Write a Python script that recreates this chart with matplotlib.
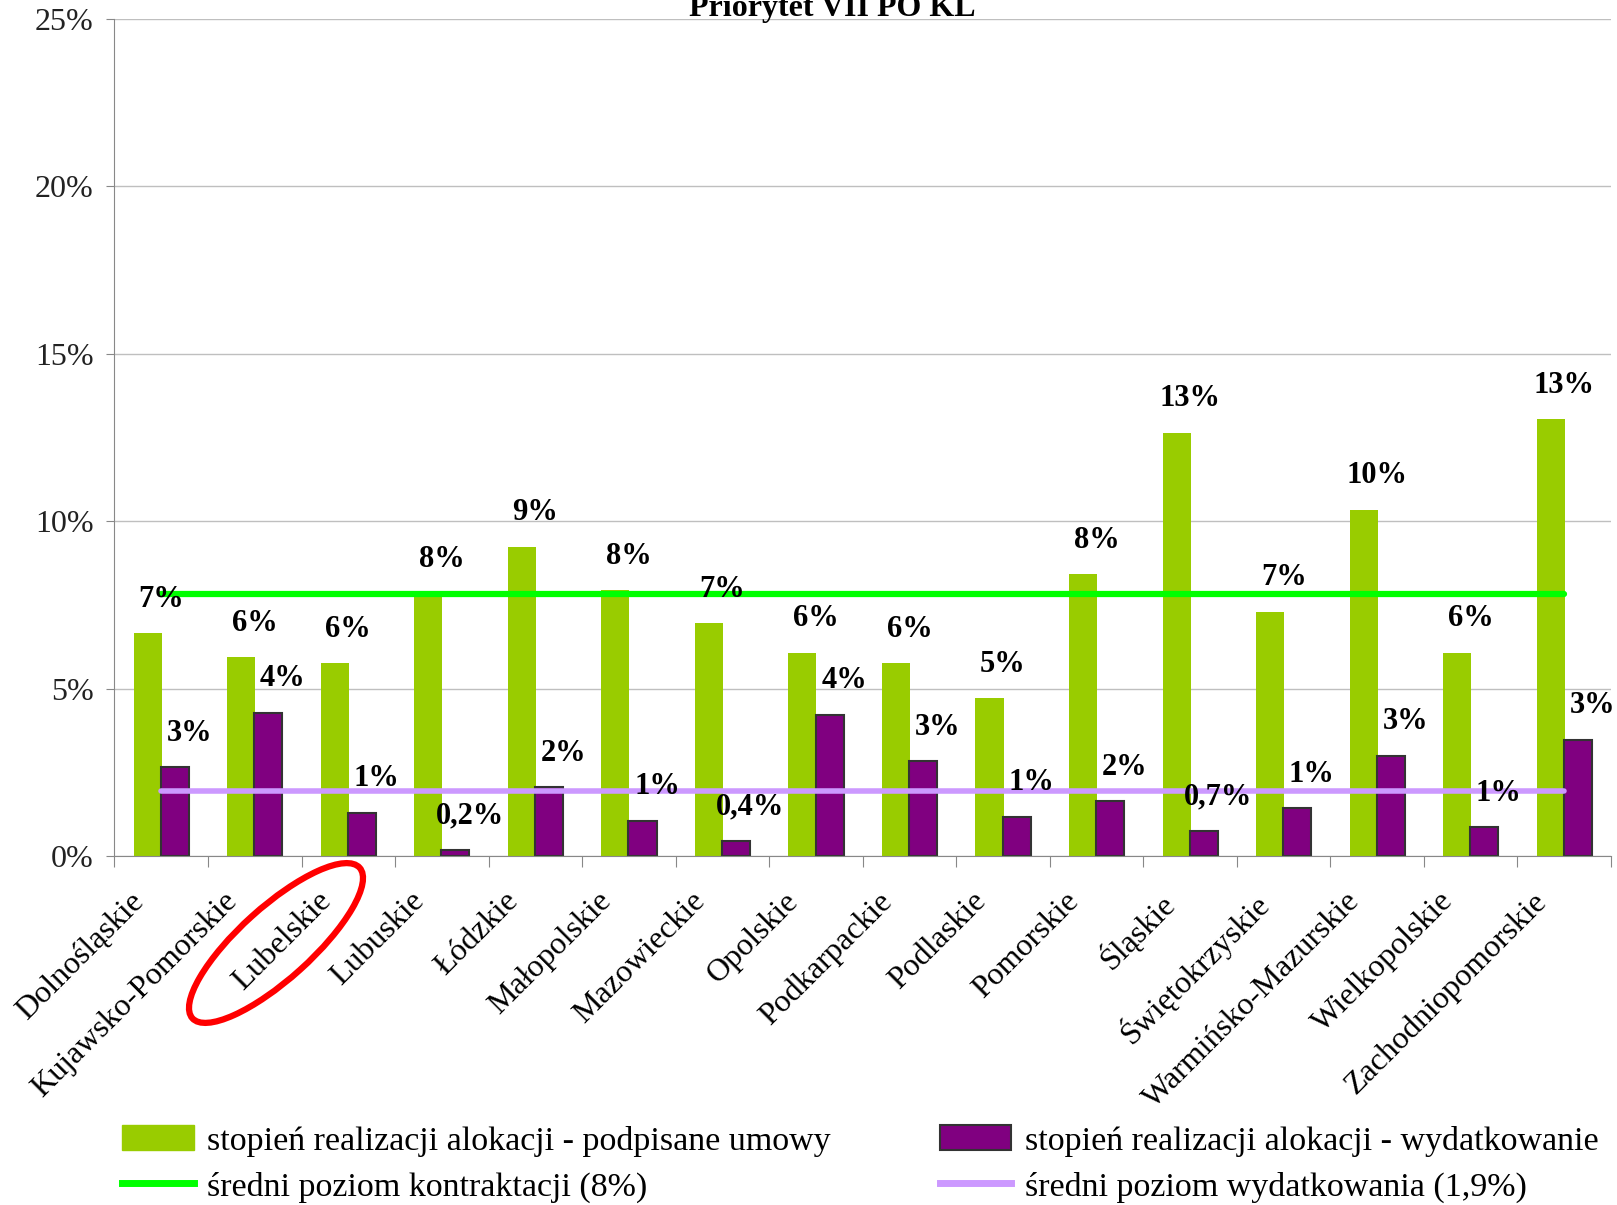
import numpy as np
import matplotlib
matplotlib.use("Agg")
import matplotlib.pyplot as plt
from matplotlib.patches import Ellipse, Patch
from matplotlib.lines import Line2D

# data (percent)
regions = ["Dolnośląskie", "Kujawsko-Pomorskie", "Lubelskie", "Lubuskie", "Łódzkie",
           "Małopolskie", "Mazowieckie", "Opolskie", "Podkarpackie", "Podlaskie",
           "Pomorskie", "Śląskie", "Świętokrzyskie", "Warmińsko-Mazurskie",
           "Wielkopolskie", "Zachodniopomorskie"]
contracts = [6.65, 5.94, 5.76, 7.85, 9.24, 7.94, 6.96, 6.07, 5.76, 4.71,
             8.41, 12.65, 7.30, 10.34, 6.07, 13.05]
spending = [2.65, 4.28, 1.29, 0.18, 2.06, 1.05, 0.46, 4.22, 2.83, 1.17,
            1.63, 0.74, 1.42, 2.99, 0.86, 3.48]
contracts_labels = ["7%", "6%", "6%", "8%", "9%", "8%", "7%", "6%", "6%", "5%",
                    "8%", "13%", "7%", "10%", "6%", "13%"]
spending_labels = ["3%", "4%", "1%", "0,2%", "2%", "1%", "0,4%", "4%", "3%", "1%",
                   "2%", "0,7%", "1%", "3%", "1%", "3%"]
avg_contracts = 7.82
avg_spending = 1.94

GREEN = "#99CC00"
PURPLE = "#800080"
LINE_GREEN = "#00FF00"
LILAC = "#CC99FF"

plt.rcParams["font.family"] = ["Liberation Serif", "DejaVu Serif"]

fig = plt.figure(figsize=(16.17, 12.05), dpi=100)
ax = fig.add_axes([0.0708, 0.2896, 0.9255, 0.6946])

x = np.arange(len(regions))
w = 0.30
ax.bar(x - 0.145, contracts, width=w, color=GREEN, zorder=2)
ax.bar(x + 0.145, spending, width=w, color=PURPLE, edgecolor="#333333",
       linewidth=1.5, zorder=2)

ax.plot([0, len(regions) - 1], [avg_contracts] * 2, color=LINE_GREEN, lw=4.5,
        solid_capstyle="round", zorder=3)
ax.plot([0, len(regions) - 1], [avg_spending] * 2, color=LILAC, lw=4,
        solid_capstyle="round", zorder=3)

for i in range(len(regions)):
    ax.annotate(contracts_labels[i], (x[i], contracts[i]), xytext=(0, 14),
                textcoords="offset points", ha="center", va="bottom",
                fontsize=22, fontweight="bold", zorder=4)
    ax.annotate(spending_labels[i], (x[i] + 0.3, spending[i]), xytext=(0, 14),
                textcoords="offset points", ha="center", va="bottom",
                fontsize=22, fontweight="bold", zorder=4)

ax.set_xlim(-0.5, len(regions) - 0.5)
ax.set_ylim(0, 25)
ax.set_yticks(np.arange(0, 26, 5))
ax.set_yticklabels([f"{v}%" for v in range(0, 26, 5)], fontsize=23, color="#222222")
ax.yaxis.grid(True, color="#BFBFBF", lw=1)
ax.set_axisbelow(True)

ax.set_xticks(np.arange(-0.5, len(regions), 1))
ax.set_xticklabels([])
ax.tick_params(axis="x", length=8, color="#888888", direction="out")
ax.tick_params(axis="y", length=6, color="#888888", direction="out", pad=9)
for side in ["top", "right"]:
    ax.spines[side].set_visible(False)
ax.spines["left"].set_color("#888888")
ax.spines["bottom"].set_color("#888888")

for i, name in enumerate(regions):
    ax.annotate(name, (x[i], 0), xycoords=("data", "axes fraction"),
                xytext=(-23, -22), textcoords="offset points", rotation=45,
                ha="right", va="top", rotation_mode="anchor", fontsize=23)

fig.text(0.515, 1 - 16 / 1205, "Priorytet VII PO KL", ha="center",
         va="baseline", fontsize=23, fontweight="bold")

# red ellipse around Lubelskie
ell = Ellipse((2.76, 2.62), 2.25, 0.72, angle=42, fill=False, edgecolor="#FF0000",
              lw=4.5, transform=fig.dpi_scale_trans)
fig.patches.append(ell)

handles = [Patch(facecolor=GREEN, edgecolor=GREEN),
           Line2D([], [], color=LINE_GREEN, lw=5),
           Patch(facecolor=PURPLE, edgecolor="#333333", lw=1.5),
           Line2D([], [], color=LILAC, lw=5)]
labels = ["stopień realizacji alokacji - podpisane umowy",
          "średni poziom kontraktacji (8%)",
          "stopień realizacji alokacji - wydatkowanie",
          "średni poziom wydatkowania (1,9%)"]
fig.legend(handles, labels, ncol=2, loc="upper left", bbox_to_anchor=(0.0755, 0.066),
           frameon=False, fontsize=24.5, handlelength=2.1, handleheight=0.75,
           handletextpad=0.4, columnspacing=3.2, labelspacing=0.42, borderpad=0,
           borderaxespad=0)

fig.savefig("out.png", dpi=100)
